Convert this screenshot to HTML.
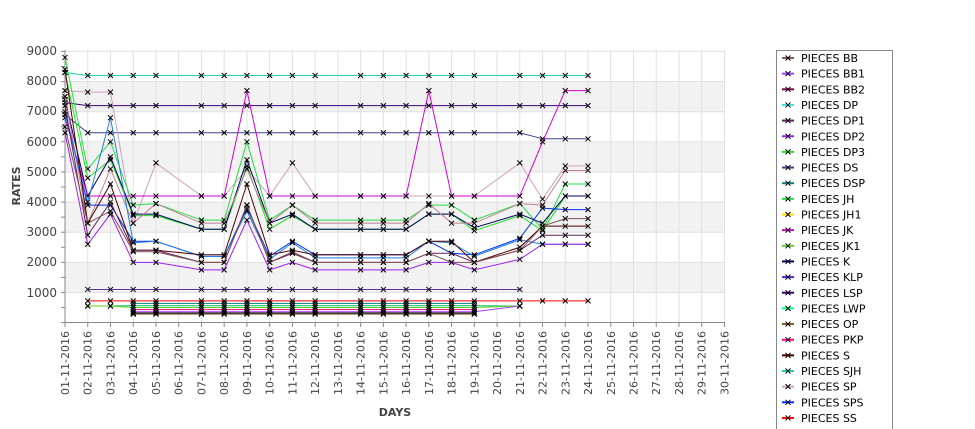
<!DOCTYPE html>
<html><head><meta charset="utf-8"><style>
body{margin:0;background:#fff;width:975px;height:429px;overflow:hidden;font-family:"Liberation Sans","DejaVu Sans",sans-serif}
svg{position:absolute;left:0;top:0}
</style></head><body>
<svg id="s" width="975" height="429" xmlns="http://www.w3.org/2000/svg" font-family="DejaVu Sans, Liberation Sans, sans-serif">
<g id="bands"></g><g id="grid"></g>
<g font-size="12" fill="#444" text-anchor="end">
<text x="57" y="55">9000</text><text x="57" y="85">8000</text><text x="57" y="115">7000</text><text x="57" y="146">6000</text><text x="57" y="176">5000</text><text x="57" y="206">4000</text><text x="57" y="236">3000</text><text x="57" y="266">2000</text><text x="57" y="297">1000</text>
</g>
<text transform="translate(20,186) rotate(-90)" font-size="11" font-weight="bold" fill="#444" text-anchor="middle">RATES</text>
<text x="395" y="416" font-size="11" font-weight="bold" fill="#444" text-anchor="middle">DAYS</text>
<g id="xl" font-size="11" fill="#444" text-anchor="end"></g>
<g id="series"></g>
<rect x="776.5" y="50.5" width="116" height="385" fill="#fff" stroke="#888"/>
<g id="leg" font-size="11" fill="#000"></g>
</svg>
<script>
var NS="http://www.w3.org/2000/svg";
function el(p,t,a,txt){var e=document.createElementNS(NS,t);for(var k in a)e.setAttribute(k,a[k]);if(txt)e.textContent=txt;p.appendChild(e);return e;}
function X(d){return 65+(d-1)*22.74;}function Y(v){return 322.6-v*0.03013;}
var b=document.getElementById('bands'),g=document.getElementById('grid');
[[7000,8000],[5000,6000],[3000,4000],[1000,2000]].forEach(function(r){el(b,'rect',{x:65,y:Y(r[1]),width:660,height:Y(r[0])-Y(r[1]),fill:'#f2f2f2'});});
for(var d=1;d<=30;d++)el(g,'line',{x1:X(d),x2:X(d),y1:50,y2:322,stroke:'#e0e0e0'});
for(var v=1000;v<=9000;v+=1000)el(g,'line',{x1:65,x2:725,y1:Y(v),y2:Y(v),stroke:'#e0e0e0'});
el(g,'line',{x1:65,x2:65,y1:50,y2:323,stroke:'#888'});el(g,'line',{x1:65,x2:725,y1:322.5,y2:322.5,stroke:'#888'});
for(var v=0;v<=9000;v+=500)el(g,'line',{x1:61,x2:65,y1:Y(v),y2:Y(v),stroke:'#888'});
for(var d=1;d<=30;d++)el(g,'line',{x1:X(d),x2:X(d),y1:323,y2:327,stroke:'#888'});
var xl=document.getElementById('xl');
for(var d=1;d<=30;d++){var s=(d<10?'0':'')+d+'-11-2016';el(xl,'text',{transform:'translate('+(X(d)+4)+',331) rotate(-90)'},s);}
var D=[1,2,3,4,5,7,8,9,10,11,12,14,15,16,17,18,19,21,22,23,24];
function rep(v,n){var a=[];for(var i=0;i<n;i++)a.push(v);return a;}
var N=null;
var S=[
['#20d0b0',[8300].concat(rep(8200,20))],
['#400080',[7300].concat(rep(7200,20))],
['#404090',[6900].concat(rep(6300,17),[6100,6100,6100])],
['#d0a0c0',[7700,7650,7650,3300,5300,4200,4200,5100,4200,5300,4200,4200,4200,4200,4200,4200,4200,5300,4100,5200,5200]],
['#20e040',[8800,5100,6000,3900,3950,3400,3400,6000,3400,3900,3400,3400,3400,3400,3900,3900,3400,3950,3100,4600,4600]],
['#20e020',[8300,4800,5400,3550,3550,3100,3100,5200,3100,3550,3100,3100,3100,3100,3600,3600,3050,3550,3050,4200,4200]],
['#000060',[7400,4200,5500,3600,3600,3100,3100,5400,3300,3600,3100,3100,3100,3100,3600,3600,3150,3600,3300,4200,4200]],
['#c08090',[7500,3300,5100,3300,3950,3300,3300,5100,3300,3900,3300,3300,3300,3300,3950,3300,3300,3950,3900,5050,5050]],
['#d000d0',[6800,4200,4200,4200,4200,4200,4200,7700,4200,4200,4200,4200,4200,4200,7700,4200,4200,4200,6000,7700,7700]],
['#0030ff',[7000,3900,3900,2700,2700,2200,2200,3800,2200,2700,2250,2250,2250,2250,2700,2300,2250,2800,3800,3750,3750]],
['#2080e0',[6900,4000,6800,2650,2700,2200,2200,3700,2100,2650,2150,2150,2150,2150,2700,2650,2200,2750,2600,2600,2600]],
['#500000',[8400,3300,4600,2400,2400,2250,2250,4600,2250,2400,2250,2250,2250,2250,2700,2700,2000,2500,3200,3200,3200]],
['#602060',[7200,2900,4000,2400,2400,2000,2000,3900,2000,2300,2000,2000,2000,2000,2300,2300,2000,2400,2900,2900,2900]],
['#805050',[6500,3300,3700,2350,2350,2000,2000,3900,2000,2350,2000,2000,2000,2000,2300,2000,2000,2400,3200,3450,3450]],
['#a020f0',[6300,2600,3600,2000,2000,1750,1750,3400,1750,2000,1750,1750,1750,1750,2000,2000,1750,2100,2600,2600,2600]],
['#6030a0',[N].concat(rep(1100,17),[N,N,N])],
['#ff0000',[N].concat(rep(720,20))],
['#008080',[N,N,N].concat(rep(640,14),[N,N,N,N])],
['#00c060',[N,550,550].concat(rep(560,14),[550,N,N,N])],
['#60d020',[N,550,550].concat(rep(500,14),[550,N,N,N])],
['#ff0080',[N,N,N].concat(rep(430,14),[N,N,N,N])],
['#a040ff',[N,N,N].concat(rep(360,14),[550,N,N,N])],
['#806020',[N,N,N].concat(rep(280,14),[N,N,N,N])],
['#000000',[N,N,N].concat(rep(320,14),[N,N,N,N])]
];
var sg=document.getElementById('series');
S.forEach(function(s){var pts=[];s[1].forEach(function(v,i){if(v!==null)pts.push([X(D[i]),Y(v)]);});
el(sg,'polyline',{points:pts.map(function(p){return p.join(',')}).join(' '),fill:'none',stroke:s[0],'stroke-width':1});
pts.forEach(function(p){el(sg,'path',{d:'M'+(p[0]-2.5)+','+(p[1]-2.5)+'l5,5M'+(p[0]-2.5)+','+(p[1]+2.5)+'l5,-5',stroke:'#000','stroke-width':1});});});
var L=[['BB','#8b5a5a'],['BB1','#a040ff'],['BB2','#800050'],['DP','#40e0e0'],['DP1','#602060'],['DP2','#a020f0'],['DP3','#20e020'],['DS','#404090'],['DSP','#008080'],['JH','#20e040'],['JH1','#ffd700'],['JK','#d000d0'],['JK1','#60d020'],['K','#000060'],['KLP','#6020e0'],['LSP','#400080'],['LWP','#00ff80'],['OP','#806020'],['PKP','#ff0080'],['S','#500000'],['SJH','#20d0b0'],['SP','#d0a0c0'],['SPS','#0030ff'],['SS','#ff0000']];
var lg=document.getElementById('leg');
L.forEach(function(l,i){var y=58+i*15.65;el(lg,'line',{x1:782,x2:794,y1:y,y2:y,stroke:l[1],'stroke-width':2});
el(lg,'path',{d:'M785.5,'+(y-2.5)+'l5,5M785.5,'+(y+2.5)+'l5,-5',stroke:'#000'});
el(lg,'text',{x:801,y:y+4},'PIECES '+l[0]);});
</script>
</body></html>
